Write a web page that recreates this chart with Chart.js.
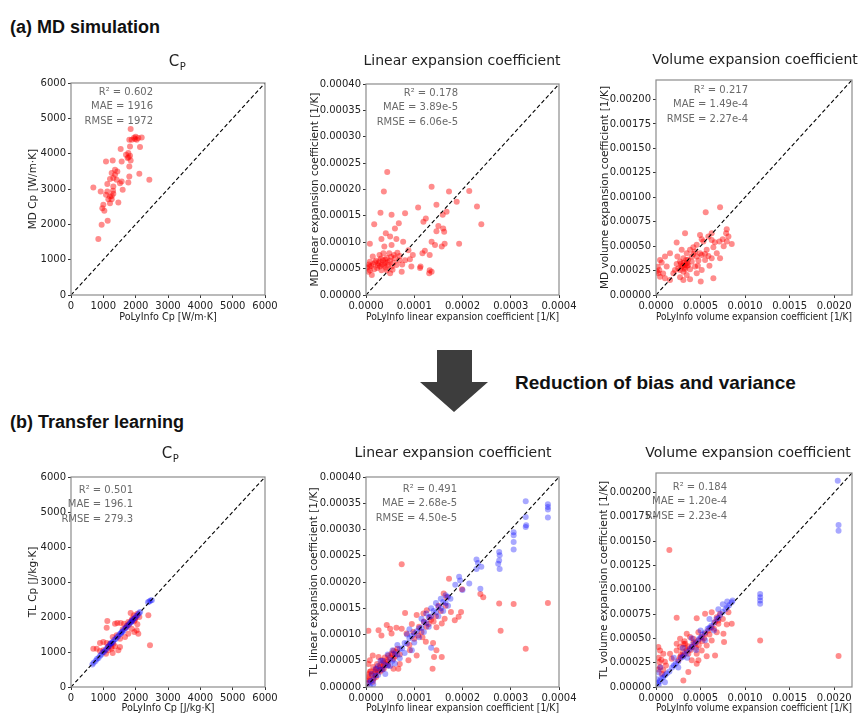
<!DOCTYPE html>
<html><head><meta charset="utf-8">
<script src="https://cdn.jsdelivr.net/npm/chart.js@4/dist/chart.umd.min.js"></script>
<style>
html,body{margin:0;padding:0;background:#fff;}
#page{position:relative;width:864px;height:716px;overflow:hidden;background:#fff;}
.panel{position:absolute;}
.panel canvas{display:block;}
</style></head><body>
<div id="page">
<svg width="864" height="716" style="position:absolute;left:0;top:0" xmlns="http://www.w3.org/2000/svg">
  <text x="10" y="33" font-family="Liberation Sans, Arial, sans-serif" font-weight="bold" font-size="18" fill="#111">(a) MD simulation</text>
  <text x="10" y="428" font-family="Liberation Sans, Arial, sans-serif" font-weight="bold" font-size="18" fill="#111">(b) Transfer learning</text>
  <text x="515" y="389" font-family="Liberation Sans, Arial, sans-serif" font-weight="bold" font-size="19" fill="#111">Reduction of bias and variance</text>
  <polygon points="437,350 472,350 472,382 488,382 454,412 420,382 437,382" fill="#3d3d3d"/>
</svg>
</div>
<script>
// ---------- tick values & labels ----------
const cpTicks = [0,1000,2000,3000,4000,5000,6000];
const cpTickLabels = ['0','1000','2000','3000','4000','5000','6000'];
const linXTicks = [0,0.0001,0.0002,0.0003,0.0004];
const linXTickLabels = ['0.0000','0.0001','0.0002','0.0003','0.0004'];
const linYTicks = [0,0.00005,0.0001,0.00015,0.0002,0.00025,0.0003,0.00035,0.0004];
const linYTickLabels = ['0.00000','0.00005','0.00010','0.00015','0.00020','0.00025','0.00030','0.00035','0.00040'];
const volXTicks = [0,0.0005,0.001,0.0015,0.002];
const volXTickLabels = ['0.0000','0.0005','0.0010','0.0015','0.0020'];
const volYTicks = [0,0.00025,0.0005,0.00075,0.001,0.00125,0.0015,0.00175,0.002];
const volYTickLabels = ['0.00000','0.00025','0.00050','0.00075','0.00100','0.00125','0.00150','0.00175','0.00200'];

// ---------- parity lines ----------
const cpDiag = [[0,0],[6000,6000]];
const linDiag = [[0,0],[0.0004,0.0004]];
const volDiag = [[0,0],[0.0022,0.0022]];

// ---------- (a) MD simulation ----------
const mdCp = [[1845,4697],[1979,4414],[2082,4442],[2186,4461],[2031,4395],[1876,4395],[1804,4395],[2134,4187],[1536,4130],[1825,4206],[1773,4017],[1825,3941],[1701,3970],[1845,3809],[1804,3639],[1289,3809],[1082,3781],[1567,3781],[1433,3497],[1361,3403],[1258,3450],[1309,3308],[1412,3261],[1206,3280],[1567,3214],[1804,3355],[2113,3431],[2423,3261],[1773,3186],[1124,3138],[1309,3072],[1598,2977],[691,3043],[918,2930],[1124,2930],[1082,2835],[1206,2788],[1309,2864],[1155,2713],[1258,2713],[1464,2618],[1206,2599],[1000,2552],[969,2457],[1031,2382],[1134,2098],[948,1985],[845,1588],[1515,3166],[1361,3545],[1950,4450],[2000,4480],[1780,3900],[1750,3880],[1260,2800],[1300,2950]];

const mdLin = [[0.44e-4,2.33e-4],[0.37e-4,1.96e-4],[0.30e-4,1.56e-4],[0.53e-4,1.52e-4],[0.81e-4,1.55e-4],[0.17e-4,1.34e-4],[1.36e-4,2.05e-4],[1.72e-4,1.96e-4],[2.14e-4,1.97e-4],[1.88e-4,1.77e-4],[2.30e-4,1.68e-4],[2.39e-4,1.34e-4],[1.08e-4,1.66e-4],[1.46e-4,1.71e-4],[1.67e-4,1.58e-4],[1.59e-4,1.52e-4],[1.24e-4,1.45e-4],[1.19e-4,1.39e-4],[1.50e-4,1.31e-4],[1.60e-4,1.26e-4],[1.62e-4,1.20e-4],[1.46e-4,1.21e-4],[0.68e-4,1.36e-4],[0.60e-4,1.26e-4],[0.41e-4,1.17e-4],[0.50e-4,1.11e-4],[0.32e-4,1.06e-4],[0.63e-4,1.06e-4],[0.77e-4,1.01e-4],[0.08e-4,0.97e-4],[0.53e-4,0.95e-4],[0.38e-4,0.92e-4],[1.36e-4,1.01e-4],[1.43e-4,0.95e-4],[1.63e-4,0.97e-4],[1.57e-4,0.92e-4],[1.93e-4,0.97e-4],[1.17e-4,0.79e-4],[1.22e-4,0.84e-4],[1.32e-4,0.76e-4],[0.88e-4,0.85e-4],[0.97e-4,0.76e-4],[0.91e-4,0.68e-4],[1.13e-4,0.54e-4],[1.32e-4,0.47e-4],[1.36e-4,0.44e-4],[1.31e-4,0.41e-4],[1.12e-4,0.51e-4],[0.94e-4,0.54e-4],[0.74e-4,0.44e-4],[0.12e-4,0.38e-4],[0.08e-4,0.47e-4],[0.07e-4,0.54e-4],[0.08e-4,0.63e-4],[0.15e-4,0.59e-4],[0.21e-4,0.65e-4],[0.26e-4,0.60e-4],[0.29e-4,0.54e-4],[0.35e-4,0.66e-4],[0.39e-4,0.61e-4],[0.43e-4,0.70e-4],[0.46e-4,0.57e-4],[0.50e-4,0.65e-4],[0.53e-4,0.54e-4],[0.57e-4,0.61e-4],[0.60e-4,0.70e-4],[0.63e-4,0.57e-4],[0.69e-4,0.66e-4],[0.23e-4,0.51e-4],[0.32e-4,0.47e-4],[0.17e-4,0.49e-4],[0.05e-4,0.44e-4],[0.14e-4,0.73e-4],[0.28e-4,0.76e-4],[0.36e-4,0.79e-4],[0.48e-4,0.79e-4],[0.58e-4,0.76e-4],[0.70e-4,0.74e-4],[0.81e-4,0.66e-4],[0.43e-4,0.47e-4],[0.50e-4,0.41e-4],[0.37e-4,0.56e-4],[0.25e-4,0.56e-4],[0.02e-4,0.52e-4],[0.11e-4,0.55e-4],[0.19e-4,0.62e-4],[0.31e-4,0.69e-4],[0.41e-4,0.52e-4],[0.55e-4,0.48e-4],[0.65e-4,0.80e-4],[0.75e-4,0.58e-4],[0.45e-4,0.62e-4],[0.33e-4,0.58e-4],[0.06e-4,0.58e-4],[0.28e-4,0.64e-4],[0.52e-4,0.72e-4],[0.40e-4,0.67e-4]];

const mdVol = [[0.558e-3,0.848e-3],[0.719e-3,0.899e-3],[0.794e-3,0.674e-3],[0.787e-3,0.632e-3],[0.813e-3,0.598e-3],[0.749e-3,0.571e-3],[0.712e-3,0.547e-3],[0.850e-3,0.523e-3],[0.794e-3,0.547e-3],[0.625e-3,0.564e-3],[0.588e-3,0.598e-3],[0.494e-3,0.615e-3],[0.513e-3,0.571e-3],[0.326e-3,0.632e-3],[0.232e-3,0.537e-3],[0.457e-3,0.513e-3],[0.419e-3,0.489e-3],[0.382e-3,0.462e-3],[0.345e-3,0.427e-3],[0.438e-3,0.444e-3],[0.494e-3,0.427e-3],[0.569e-3,0.462e-3],[0.644e-3,0.489e-3],[0.682e-3,0.427e-3],[0.719e-3,0.376e-3],[0.625e-3,0.376e-3],[0.551e-3,0.359e-3],[0.476e-3,0.352e-3],[0.401e-3,0.393e-3],[0.307e-3,0.376e-3],[0.270e-3,0.342e-3],[0.232e-3,0.318e-3],[0.288e-3,0.291e-3],[0.345e-3,0.325e-3],[0.382e-3,0.263e-3],[0.438e-3,0.291e-3],[0.513e-3,0.256e-3],[0.457e-3,0.222e-3],[0.345e-3,0.205e-3],[0.270e-3,0.181e-3],[0.195e-3,0.222e-3],[0.120e-3,0.291e-3],[0.064e-3,0.332e-3],[0.037e-3,0.256e-3],[0.026e-3,0.222e-3],[0.045e-3,0.188e-3],[0.101e-3,0.171e-3],[0.157e-3,0.154e-3],[0.307e-3,0.154e-3],[0.382e-3,0.161e-3],[0.502e-3,0.137e-3],[0.644e-3,0.171e-3],[0.270e-3,0.256e-3],[0.307e-3,0.239e-3],[0.326e-3,0.263e-3],[0.363e-3,0.308e-3],[0.401e-3,0.342e-3],[0.338e-3,0.359e-3],[0.213e-3,0.256e-3],[0.240e-3,0.393e-3],[0.288e-3,0.462e-3],[0.101e-3,0.393e-3],[0.157e-3,0.427e-3],[0.045e-3,0.359e-3],[0.625e-3,0.632e-3],[0.532e-3,0.547e-3],[0.457e-3,0.393e-3],[0.513e-3,0.410e-3],[0.588e-3,0.400e-3],[0.300e-3,0.300e-3],[0.320e-3,0.280e-3],[0.280e-3,0.320e-3],[0.350e-3,0.300e-3],[0.310e-3,0.330e-3],[0.330e-3,0.310e-3],[0.360e-3,0.360e-3],[0.250e-3,0.270e-3],[0.020e-3,0.290e-3],[0.010e-3,0.240e-3],[0.080e-3,0.220e-3],[0.420e-3,0.420e-3],[0.470e-3,0.300e-3],[0.550e-3,0.420e-3],[0.600e-3,0.300e-3],[0.660e-3,0.540e-3],[0.760e-3,0.500e-3]];

// ---------- (b) Transfer learning ----------
const tlCpRed = [[1124,1886],[1103,1695],[1361,1810],[1433,1829],[1536,1829],[1639,1810],[1773,1857],[1876,1905],[1845,2114],[1948,2048],[2052,2095],[2113,2000],[1979,1924],[1722,1752],[1876,1667],[2031,1619],[2392,2048],[2443,1190],[2052,1790],[2082,1524],[1959,1571],[1515,1381],[1412,1476],[1289,1429],[1670,1429],[1773,1524],[1309,1238],[1206,1238],[1103,1257],[1000,1286],[897,1257],[794,1095],[691,1095],[1000,1048],[1155,1048],[1258,1095],[1361,1162],[1515,1143],[1289,971],[1082,952],[897,1029],[1464,1048],[1900,1960],[2000,1980],[1950,1880],[1800,1800],[1600,1650],[1700,1700],[1250,1150],[1150,1150]];
const tlCpBlue = [[660,640],[700,690],[760,740],[800,800],[850,830],[900,890],[940,930],[980,990],[1020,1000],[1060,1050],[1100,1090],[1140,1150],[1180,1170],[1220,1230],[1260,1250],[1300,1290],[1340,1350],[1380,1370],[1420,1420],[1460,1450],[1500,1510],[1540,1530],[1580,1580],[1620,1610],[1660,1670],[1700,1690],[1740,1750],[1780,1770],[1820,1830],[1860,1850],[1900,1900],[1940,1950],[1980,1970],[2020,2030],[2060,2050],[2100,2110],[2140,2140],[2380,2420],[2420,2440],[2460,2470],[2500,2480],[1240,1260],[1560,1560],[1880,1880]];

const tlLinRed = [[0.74e-4,2.34e-4],[0.05e-4,1.07e-4],[1.72e-4,2.06e-4],[1.61e-4,1.78e-4],[1.67e-4,1.71e-4],[2.37e-4,1.77e-4],[2.43e-4,1.71e-4],[2.76e-4,1.59e-4],[3.06e-4,1.58e-4],[3.77e-4,1.60e-4],[2.79e-4,1.07e-4],[3.31e-4,0.73e-4],[1.76e-4,1.43e-4],[1.63e-4,1.30e-4],[1.84e-4,1.27e-4],[1.57e-4,1.21e-4],[1.46e-4,1.14e-4],[1.26e-4,1.46e-4],[1.19e-4,1.40e-4],[1.32e-4,1.33e-4],[0.81e-4,1.41e-4],[1.05e-4,1.37e-4],[0.43e-4,1.18e-4],[0.50e-4,1.11e-4],[0.63e-4,1.13e-4],[0.74e-4,1.11e-4],[0.26e-4,1.08e-4],[0.84e-4,1.02e-4],[0.53e-4,1.02e-4],[0.32e-4,0.98e-4],[0.98e-4,1.05e-4],[1.08e-4,0.98e-4],[1.17e-4,0.95e-4],[1.24e-4,0.86e-4],[1.39e-4,0.84e-4],[1.46e-4,0.70e-4],[1.41e-4,0.57e-4],[1.57e-4,0.57e-4],[1.38e-4,0.35e-4],[1.05e-4,0.60e-4],[0.91e-4,0.70e-4],[0.88e-4,0.51e-4],[0.70e-4,0.44e-4],[0.57e-4,0.54e-4],[0.05e-4,0.19e-4],[0.08e-4,0.29e-4],[0.07e-4,0.13e-4],[0.12e-4,0.22e-4],[0.15e-4,0.38e-4],[0.19e-4,0.29e-4],[0.22e-4,0.35e-4],[0.23e-4,0.44e-4],[0.29e-4,0.41e-4],[0.32e-4,0.51e-4],[0.36e-4,0.46e-4],[0.39e-4,0.56e-4],[0.43e-4,0.51e-4],[0.46e-4,0.60e-4],[0.50e-4,0.56e-4],[0.53e-4,0.64e-4],[0.57e-4,0.69e-4],[0.62e-4,0.67e-4],[0.65e-4,0.73e-4],[0.29e-4,0.29e-4],[0.21e-4,0.19e-4],[0.14e-4,0.10e-4],[0.03e-4,0.06e-4],[0.08e-4,0.51e-4],[0.05e-4,0.44e-4],[0.37e-4,0.35e-4],[0.46e-4,0.41e-4],[0.26e-4,0.57e-4],[0.57e-4,0.35e-4],[0.67e-4,0.35e-4],[0.14e-4,0.60e-4],[0.10e-4,0.30e-4],[0.18e-4,0.25e-4],[0.25e-4,0.30e-4],[0.30e-4,0.38e-4],[0.35e-4,0.40e-4],[0.40e-4,0.45e-4],[0.45e-4,0.48e-4],[0.02e-4,0.15e-4],[0.06e-4,0.25e-4],[0.16e-4,0.16e-4],[0.20e-4,0.33e-4],[0.33e-4,0.33e-4],[0.55e-4,0.62e-4],[0.60e-4,0.58e-4],[0.70e-4,0.62e-4],[1.10e-4,1.15e-4],[1.20e-4,1.25e-4],[1.30e-4,1.20e-4],[1.45e-4,1.35e-4],[1.50e-4,1.55e-4],[1.55e-4,1.45e-4],[1.65e-4,1.55e-4],[1.35e-4,1.28e-4],[1.25e-4,1.15e-4],[1.40e-4,1.25e-4],[0.90e-4,0.80e-4],[1.00e-4,0.92e-4],[0.95e-4,1.20e-4],[1.15e-4,1.05e-4],[1.99e-4,1.86e-4],[1.97e-4,1.43e-4],[1.92e-4,1.34e-4]];
const tlLinBlue = [[1.93e-4,2.10e-4],[1.95e-4,2.03e-4],[2.14e-4,1.97e-4],[2.29e-4,2.43e-4],[2.32e-4,2.36e-4],[2.29e-4,2.25e-4],[2.39e-4,2.29e-4],[2.76e-4,2.57e-4],[2.77e-4,2.51e-4],[2.76e-4,2.41e-4],[2.74e-4,2.35e-4],[2.77e-4,2.25e-4],[3.06e-4,2.95e-4],[3.06e-4,2.89e-4],[3.06e-4,2.76e-4],[3.06e-4,2.62e-4],[3.31e-4,3.54e-4],[3.31e-4,3.24e-4],[3.32e-4,3.08e-4],[3.31e-4,3.05e-4],[3.77e-4,3.48e-4],[3.77e-4,3.43e-4],[3.77e-4,3.38e-4],[3.77e-4,3.23e-4],[2.37e-4,1.87e-4],[0.05e-4,0.08e-4],[0.10e-4,0.12e-4],[0.15e-4,0.14e-4],[0.20e-4,0.22e-4],[0.25e-4,0.23e-4],[0.30e-4,0.33e-4],[0.35e-4,0.34e-4],[0.40e-4,0.42e-4],[0.45e-4,0.41e-4],[0.50e-4,0.52e-4],[0.55e-4,0.50e-4],[0.60e-4,0.63e-4],[0.65e-4,0.62e-4],[0.70e-4,0.72e-4],[0.75e-4,0.74e-4],[0.80e-4,0.84e-4],[0.85e-4,0.83e-4],[0.90e-4,0.93e-4],[0.95e-4,0.97e-4],[1.00e-4,1.02e-4],[1.05e-4,1.06e-4],[1.10e-4,1.12e-4],[1.15e-4,1.13e-4],[1.20e-4,1.24e-4],[1.25e-4,1.22e-4],[1.30e-4,1.33e-4],[1.35e-4,1.35e-4],[1.40e-4,1.45e-4],[1.45e-4,1.42e-4],[1.50e-4,1.53e-4],[1.55e-4,1.50e-4],[1.60e-4,1.62e-4],[1.65e-4,1.60e-4],[1.70e-4,1.72e-4],[1.75e-4,1.68e-4],[0.30e-4,0.50e-4],[0.45e-4,0.62e-4],[0.60e-4,0.45e-4],[0.80e-4,0.65e-4],[1.00e-4,0.85e-4],[1.20e-4,1.05e-4],[1.35e-4,1.50e-4],[1.50e-4,1.35e-4],[0.90e-4,1.10e-4],[1.10e-4,0.95e-4],[0.20e-4,0.35e-4],[0.15e-4,0.05e-4],[0.40e-4,0.25e-4],[0.55e-4,0.70e-4],[1.60e-4,1.45e-4],[1.30e-4,1.15e-4],[1.45e-4,1.60e-4],[1.70e-4,1.55e-4],[0.70e-4,0.55e-4],[0.35e-4,0.50e-4],[1.85e-4,1.95e-4],[2.00e-4,1.85e-4],[0.95e-4,0.70e-4],[1.35e-4,0.75e-4],[0.25e-4,0.40e-4],[0.12e-4,0.25e-4],[0.08e-4,0.02e-4],[0.65e-4,0.80e-4],[1.15e-4,1.30e-4],[1.25e-4,1.40e-4],[1.55e-4,1.68e-4],[1.65e-4,1.75e-4],[0.50e-4,0.40e-4],[0.85e-4,1.00e-4]];

const tlVolRed = [[0.150e-3,1.409e-3],[0.232e-3,0.711e-3],[1.169e-3,0.479e-3],[2.049e-3,0.318e-3],[0.307e-3,0.068e-3],[0.457e-3,0.708e-3],[0.551e-3,0.752e-3],[0.625e-3,0.769e-3],[0.682e-3,0.718e-3],[0.794e-3,0.643e-3],[0.757e-3,0.547e-3],[0.850e-3,0.650e-3],[0.764e-3,0.462e-3],[0.663e-3,0.325e-3],[0.569e-3,0.315e-3],[0.476e-3,0.274e-3],[0.363e-3,0.154e-3],[0.270e-3,0.308e-3],[0.382e-3,0.513e-3],[0.307e-3,0.444e-3],[0.232e-3,0.376e-3],[0.157e-3,0.342e-3],[0.082e-3,0.342e-3],[0.026e-3,0.410e-3],[0.045e-3,0.376e-3],[0.037e-3,0.256e-3],[0.045e-3,0.205e-3],[0.270e-3,0.410e-3],[0.326e-3,0.444e-3],[0.345e-3,0.376e-3],[0.401e-3,0.410e-3],[0.438e-3,0.444e-3],[0.476e-3,0.479e-3],[0.513e-3,0.513e-3],[0.551e-3,0.547e-3],[0.588e-3,0.581e-3],[0.625e-3,0.615e-3],[0.663e-3,0.667e-3],[0.700e-3,0.684e-3],[0.719e-3,0.752e-3],[0.813e-3,0.769e-3],[0.363e-3,0.342e-3],[0.307e-3,0.325e-3],[0.251e-3,0.274e-3],[0.457e-3,0.342e-3],[0.513e-3,0.376e-3],[0.569e-3,0.427e-3],[0.625e-3,0.479e-3],[0.232e-3,0.444e-3],[0.176e-3,0.291e-3],[0.112e-3,0.222e-3],[0.082e-3,0.171e-3],[0.064e-3,0.137e-3],[0.270e-3,0.496e-3],[0.345e-3,0.547e-3],[0.419e-3,0.496e-3],[0.476e-3,0.564e-3],[0.682e-3,0.564e-3],[0.457e-3,0.239e-3],[0.401e-3,0.274e-3],[0.300e-3,0.360e-3],[0.330e-3,0.400e-3],[0.360e-3,0.420e-3],[0.390e-3,0.380e-3],[0.420e-3,0.460e-3],[0.450e-3,0.400e-3],[0.480e-3,0.430e-3],[0.520e-3,0.470e-3],[0.540e-3,0.500e-3],[0.600e-3,0.540e-3],[0.650e-3,0.600e-3],[0.700e-3,0.650e-3],[0.750e-3,0.700e-3],[0.280e-3,0.330e-3],[0.320e-3,0.470e-3],[0.030e-3,0.300e-3],[0.060e-3,0.280e-3],[0.020e-3,0.180e-3],[0.100e-3,0.260e-3]];
const tlVolBlue = [[2.040e-3,2.120e-3],[2.049e-3,1.665e-3],[2.049e-3,1.607e-3],[1.169e-3,0.957e-3],[1.169e-3,0.923e-3],[1.169e-3,0.889e-3],[1.169e-3,0.855e-3],[0.02e-3,0.04e-3],[0.04e-3,0.06e-3],[0.06e-3,0.09e-3],[0.08e-3,0.10e-3],[0.10e-3,0.12e-3],[0.12e-3,0.14e-3],[0.15e-3,0.16e-3],[0.18e-3,0.20e-3],[0.20e-3,0.22e-3],[0.22e-3,0.24e-3],[0.25e-3,0.26e-3],[0.28e-3,0.30e-3],[0.30e-3,0.31e-3],[0.32e-3,0.34e-3],[0.35e-3,0.36e-3],[0.38e-3,0.39e-3],[0.40e-3,0.41e-3],[0.42e-3,0.44e-3],[0.45e-3,0.46e-3],[0.48e-3,0.49e-3],[0.50e-3,0.51e-3],[0.52e-3,0.54e-3],[0.55e-3,0.56e-3],[0.58e-3,0.60e-3],[0.60e-3,0.61e-3],[0.62e-3,0.63e-3],[0.65e-3,0.66e-3],[0.68e-3,0.70e-3],[0.70e-3,0.71e-3],[0.72e-3,0.74e-3],[0.75e-3,0.77e-3],[0.78e-3,0.80e-3],[0.80e-3,0.82e-3],[0.82e-3,0.84e-3],[0.85e-3,0.87e-3],[0.86e-3,0.89e-3],[0.05e-3,0.20e-3],[0.03e-3,0.15e-3],[0.30e-3,0.40e-3],[0.50e-3,0.58e-3],[0.60e-3,0.70e-3],[0.70e-3,0.80e-3],[0.80e-3,0.88e-3],[0.45e-3,0.38e-3],[0.55e-3,0.48e-3],[0.35e-3,0.30e-3],[0.25e-3,0.20e-3],[0.65e-3,0.58e-3],[0.75e-3,0.85e-3],[0.40e-3,0.50e-3],[0.20e-3,0.30e-3],[0.10e-3,0.05e-3],[0.03e-3,0.02e-3],[0.01e-3,0.08e-3]];

// ---------- drawing ----------
const TXT = '#222';
const FONT = '"DejaVu Sans", sans-serif';
const RED = 'rgba(255,0,0,0.45)';
const BLUE = 'rgba(0,0,255,0.34)';

function panel(p) {
  const page = document.getElementById('page');
  const div = document.createElement('div');
  div.className = 'panel';
  div.style.left = p.box[0] + 'px'; div.style.top = p.box[1] + 'px';
  div.style.width = p.box[2] + 'px'; div.style.height = p.box[3] + 'px';
  const cv = document.createElement('canvas');
  cv.width = p.box[2]; cv.height = p.box[3];
  cv.style.width = p.box[2] + 'px'; cv.style.height = p.box[3] + 'px';
  div.appendChild(cv); page.appendChild(div);
  const [L, T, R, B] = p.area;
  const W = p.box[2], H = p.box[3];

  const deco = {
    id: 'deco',
    afterDatasetsDraw(chart) {
      const ctx = chart.ctx, a = chart.chartArea;
      ctx.save();
      ctx.strokeStyle = '#8c8c8c'; ctx.lineWidth = 1.2;
      ctx.strokeRect(a.left, a.top, a.right - a.left, a.bottom - a.top);
      ctx.fillStyle = '#6a6a6a'; ctx.font = '10px ' + FONT;
      ctx.textAlign = 'right'; ctx.textBaseline = 'middle';
      p.stats.forEach((t, i) => ctx.fillText(t, a.left + p.statPos[0], a.top + p.statPos[1] + i * 14.5));
      ctx.fillStyle = TXT; ctx.textBaseline = 'middle';
      if (p.sub) {
        ctx.font = '15px ' + FONT; const w1 = ctx.measureText(p.title).width;
        ctx.font = '10px ' + FONT; const w2 = ctx.measureText(p.sub).width;
        const x0 = p.titlePos[0] - (w1 + w2) / 2;
        ctx.textAlign = 'left';
        ctx.font = '15px ' + FONT; ctx.fillText(p.title, x0, p.titlePos[1]);
        ctx.font = '10px ' + FONT; ctx.fillText(p.sub, x0 + w1 + 0.5, p.titlePos[1] + 5);
      } else {
        ctx.font = '14px ' + FONT; ctx.textAlign = 'center';
        ctx.fillText(p.title, p.titlePos[0], p.titlePos[1]);
      }
      ctx.restore();
    }
  };

  const axis = (min, max, ticks, labels, size, title, tFont) => ({
    type: 'linear', min: min, max: max,
    afterBuildTicks: s => { s.ticks = ticks.map(v => ({ value: v })); },
    afterFit: s => { if (s.isHorizontal()) s.height = size; else s.width = size; },
    ticks: { callback: (v, i) => labels[i], font: { family: FONT, size: 10 }, color: TXT, padding: 2, maxRotation: 0, autoSkip: false },
    grid: { drawOnChartArea: false, drawTicks: true, tickLength: 3, color: '#333', lineWidth: 1 },
    border: { display: false },
    title: { display: true, text: title, font: { family: FONT, size: tFont }, color: TXT, padding: 0 }
  });

  const datasets = [];
  datasets.push({ data: p.diag, showLine: true, borderColor: '#000', borderWidth: 1.1, borderDash: [4, 2.5], pointRadius: 0, order: 0 });
  if (p.blue) datasets.push({ data: p.blue, backgroundColor: BLUE, borderWidth: 0, pointRadius: 3, order: 1 });
  datasets.push({ data: p.red, backgroundColor: RED, borderWidth: 0, pointRadius: 3, order: 2 });

  new Chart(cv, {
    type: 'scatter',
    data: { datasets: datasets },
    options: {
      responsive: false, animation: false, devicePixelRatio: 1,
      layout: { padding: { left: L - p.yw, top: T, right: W - R, bottom: H - B - p.xh } },
      plugins: { legend: { display: false }, tooltip: { enabled: false } },
      scales: {
        x: axis(0, p.max, p.xt, p.xl, p.xh, p.xTitle, 9.6),
        y: axis(0, p.max, p.yt, p.yl, p.yw, p.yTitle, 10.5)
      }
    },
    plugins: [deco]
  });
}

Chart.defaults.font.family = FONT;

panel({ box: [0, 40, 290, 290], area: [71, 43, 265, 255], yw: 44.3, xh: 27.8, max: 6000,
  xt: cpTicks, xl: cpTickLabels, yt: cpTicks, yl: cpTickLabels,
  xTitle: 'PoLyInfo Cp [W/m·K]', yTitle: 'MD Cp [W/m·K]',
  title: 'C', sub: 'P', titlePos: [177, 22],
  stats: ['R² = 0.602', 'MAE = 1916', 'RMSE = 1972'], statPos: [82, 9],
  diag: cpDiag, red: mdCp });

panel({ box: [290, 40, 290, 290], area: [76, 44, 269, 255], yw: 57.3, xh: 27.8, max: 0.0004,
  xt: linXTicks, xl: linXTickLabels, yt: linYTicks, yl: linYTickLabels,
  xTitle: 'PoLyInfo linear expansion coefficient [1/K]', yTitle: 'MD linear expansion coefficient [1/K]',
  title: 'Linear expansion coefficient', titlePos: [172, 21],
  stats: ['R² = 0.178', 'MAE = 3.89e-5', 'RMSE = 6.06e-5'], statPos: [92, 9],
  diag: linDiag, red: mdLin });

panel({ box: [580, 40, 284, 290], area: [76, 40, 272, 255], yw: 57.3, xh: 27.8, max: 0.0022,
  xt: volXTicks, xl: volXTickLabels, yt: volYTicks, yl: volYTickLabels,
  xTitle: 'PoLyInfo volume expansion coefficient [1/K]', yTitle: 'MD volume expansion coefficient [1/K]',
  title: 'Volume expansion coefficient', titlePos: [175, 20],
  stats: ['R² = 0.217', 'MAE = 1.49e-4', 'RMSE = 2.27e-4'], statPos: [92, 10],
  diag: volDiag, red: mdVol });

panel({ box: [0, 420, 290, 296], area: [71, 57, 265, 267], yw: 44.3, xh: 26.8, max: 6000,
  xt: cpTicks, xl: cpTickLabels, yt: cpTicks, yl: cpTickLabels,
  xTitle: 'PoLyInfo Cp [J/kg·K]', yTitle: 'TL Cp [J/kg·K]',
  title: 'C', sub: 'P', titlePos: [170, 34],
  stats: ['R² = 0.501', 'MAE = 196.1', 'RMSE = 279.3'], statPos: [62, 13],
  diag: cpDiag, red: tlCpRed, blue: tlCpBlue });

panel({ box: [290, 420, 290, 296], area: [76, 57, 269, 267], yw: 58.3, xh: 26.8, max: 0.0004,
  xt: linXTicks, xl: linXTickLabels, yt: linYTicks, yl: linYTickLabels,
  xTitle: 'PoLyInfo linear expansion coefficient [1/K]', yTitle: 'TL linear expansion coefficient [1/K]',
  title: 'Linear expansion coefficient', titlePos: [163, 33],
  stats: ['R² = 0.491', 'MAE = 2.68e-5', 'RMSE = 4.50e-5'], statPos: [91, 12],
  diag: linDiag, red: tlLinRed, blue: tlLinBlue });

panel({ box: [580, 420, 284, 296], area: [76, 53, 272, 267], yw: 58.3, xh: 26.8, max: 0.0022,
  xt: volXTicks, xl: volXTickLabels, yt: volYTicks, yl: volYTickLabels,
  xTitle: 'PoLyInfo volume expansion coefficient [1/K]', yTitle: 'TL volume expansion coefficient [1/K]',
  title: 'Volume expansion coefficient', titlePos: [168, 33],
  stats: ['R² = 0.184', 'MAE = 1.20e-4', 'RMSE = 2.23e-4'], statPos: [71, 14],
  diag: volDiag, red: tlVolRed, blue: tlVolBlue });
</script>
</body></html>
